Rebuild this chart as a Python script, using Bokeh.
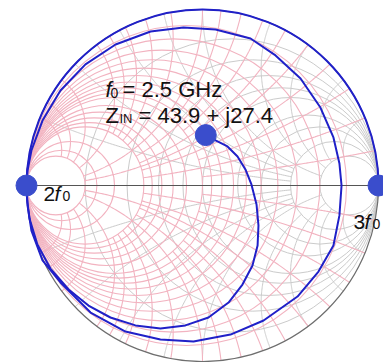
import numpy as np
from bokeh.plotting import figure
from bokeh.models import Range1d, Label
from bokeh.embed import file_html
from bokeh.resources import INLINE

# ---- data -------------------------------------------------------------
Z0 = 50.0
zin_re = 43.9          # ohms at f0
zin_im = 27.4
f0_text = "2.5 GHz"

# Smith chart grid values (normalised); arcs stop at the given limit
r_values = [0.2, 0.4, 0.6, 0.8, 1.0, 1.5, 2.0, 3.0, 5.0]
x_values = [0.2, 0.4, 0.6, 0.8, 1.0, 1.5, 2.0, 3.0, 5.0]
x_limits = [3.0, 3.0, 3.0, 3.0, 5.0, 3.0, 5.0, 5.0, 5.0]
g_values = [0.1, 0.2, 0.3, 0.4, 0.5, 0.6, 0.7, 0.8, 0.9, 1.0, 1.2, 1.4,
            1.6, 1.8, 2.0, 3.0, 4.0, 5.0]
b_values = [0.1, 0.2, 0.3, 0.4, 0.5, 0.6, 0.7, 0.8, 0.9, 1.0, 1.2, 1.4,
            1.6, 1.8, 2.0, 3.0, 4.0, 5.0]
b_limits = [1.0, 2.0, 1.0, 2.0, 5.0, 2.0, 1.0, 2.0, 1.0, 5.0, 2.0, 2.0,
            2.0, 2.0, 5.0, 5.0, 5.0, 5.0]

# sweep from f0 to 2f0 (reflection coefficient, after the Z_IN point)
sweep_a_re = [0.074, 0.142, 0.199, 0.244, 0.278, 0.307, 0.318, 0.313, 0.284,
              0.227, 0.148, 0.034, -0.097, -0.239, -0.381, -0.523, -0.648,
              -0.761, -0.864, -0.938, -0.983, -0.996, -1.0]
sweep_a_im = [0.256, 0.222, 0.165, 0.091, 0.006, -0.108, -0.227, -0.341,
              -0.455, -0.563, -0.665, -0.750, -0.795, -0.813, -0.795, -0.750,
              -0.682, -0.591, -0.472, -0.335, -0.188, -0.085, 0.0]

# loop through 2f0 (reflection coefficient)
sweep_b_re = [-1.0, -0.994, -0.972, -0.909, -0.807, -0.636, -0.438, -0.239,
              -0.051, 0.159, 0.347, 0.540, 0.659, 0.744, 0.778, 0.790, 0.778,
              0.744, 0.670, 0.557, 0.415, 0.273, 0.074, -0.108, -0.295,
              -0.494, -0.665, -0.807, -0.909, -0.972, -0.994, -1.0]
sweep_b_im = [0.0, -0.114, -0.256, -0.426, -0.551, -0.722, -0.830, -0.875,
              -0.886, -0.847, -0.767, -0.631, -0.489, -0.341, -0.170, 0.0,
              0.125, 0.273, 0.443, 0.608, 0.739, 0.835, 0.886, 0.898, 0.875,
              0.801, 0.688, 0.540, 0.369, 0.199, 0.085, 0.0]

# ---- page geometry ----------------------------------------------------
W, H = 383, 362
CX, CY, RPX = 202.0, 185.0, 176.0    # chart centre / radius in pixels


def X(px):
    return (px - CX) / RPX


def Y(py):
    return (CY - py) / RPX


PINK = "#f2b3c0"
GREY = "#cbcbcb"
BLUE = "#2020c8"
DOT = "#3a4dcc"

p = figure(width=W, height=H, output_backend="svg", toolbar_location=None,
           x_range=Range1d(X(0), X(W)), y_range=Range1d(Y(H), Y(0)),
           x_axis_location=None, y_axis_location=None, min_border=0,
           outline_line_color=None, background_fill_color="white")
p.grid.visible = False


def gamma(z):
    return (z - 1) / (z + 1)


def arc_points(value, limit, sign, mirror):
    """Constant-reactance (or susceptance) arc from 0 up to `limit`."""
    t = np.concatenate([[0.0], np.logspace(-3, np.log10(limit), 300)])
    gm = gamma(t + 1j * sign * value)
    return (-gm if mirror else gm)


def circle_points(value, limit, mirror):
    """Constant-resistance (or conductance) circle, cut at |x| = limit."""
    t = np.linspace(-limit, limit, 400)
    t = np.sign(t) * (np.abs(t) ** 2) / limit
    gm = gamma(value + 1j * t)
    return (-gm if mirror else gm)


# impedance grid (grey)
for r in r_values:
    p.circle(x=[r / (1 + r)], y=[0], radius=1 / (1 + r), fill_color=None,
             line_color=GREY, line_width=1)
for xv, lim in zip(x_values, x_limits):
    for s in (1, -1):
        gm = arc_points(xv, lim, s, False)
        p.line(gm.real, gm.imag, line_color=GREY, line_width=1)

# admittance grid (pink), mirrored through the centre
for g in g_values:
    p.circle(x=[-g / (1 + g)], y=[0], radius=1 / (1 + g), fill_color=None,
             line_color=PINK, line_width=1.1)
for b, lim in zip(b_values, b_limits):
    for s in (1, -1):
        gm = arc_points(b, lim, s, True)
        p.line(gm.real, gm.imag, line_color=PINK, line_width=1.1)

# boundary and real axis
p.circle(x=[0], y=[0], radius=1.0, fill_color=None, line_color="#6e6e6e",
         line_width=1.2)
p.line([-1, 1], [0, 0], line_color="#555555", line_width=1.2)

# trajectories
gin = gamma(complex(zin_re, zin_im) / Z0)
p.line([gin.real] + sweep_a_re, [gin.imag] + sweep_a_im, line_color=BLUE,
       line_width=2)
p.line(sweep_b_re, sweep_b_im, line_color=BLUE, line_width=2)
p.arc(x=[0], y=[0], radius=1.0, start_angle=0, end_angle=np.pi,
      line_color=BLUE, line_width=2)

# markers: Z_IN at f0, short at 2f0, open at 3f0
p.scatter(x=[gin.real, -1.0, 1.0], y=[gin.imag, 0.0, 0.0], size=21,
          fill_color=DOT, line_color=DOT)


def lab(txt, px, py, size, style="normal"):
    p.add_layout(Label(x=X(px), y=Y(py), text=txt, text_font="Liberation Sans",
                       text_font_size=f"{size}px", text_font_style=style,
                       text_color="#111111", text_baseline="alphabetic",
                       text_align="left"))


# f0 = 2.5 GHz
lab("f", 105, 89, 22, "italic")
lab("0", 110, 92, 14)
lab("= " + f0_text, 122, 89, 22)
# Z_IN = 43.9 + j27.4
lab("Z", 105, 115, 22)
lab("IN", 119, 118, 13)
lab(f"= {zin_re} + j{zin_im}", 138, 115, 22)
# 2f0
lab("2", 43, 193, 21)
lab("f", 54, 193, 21, "italic")
lab("0", 62, 195, 14)
# 3f0
lab("3", 353, 221, 21)
lab("f", 364, 221, 21, "italic")
lab("0", 372, 223, 14)

open("out.html", "w").write(file_html(p, INLINE))
